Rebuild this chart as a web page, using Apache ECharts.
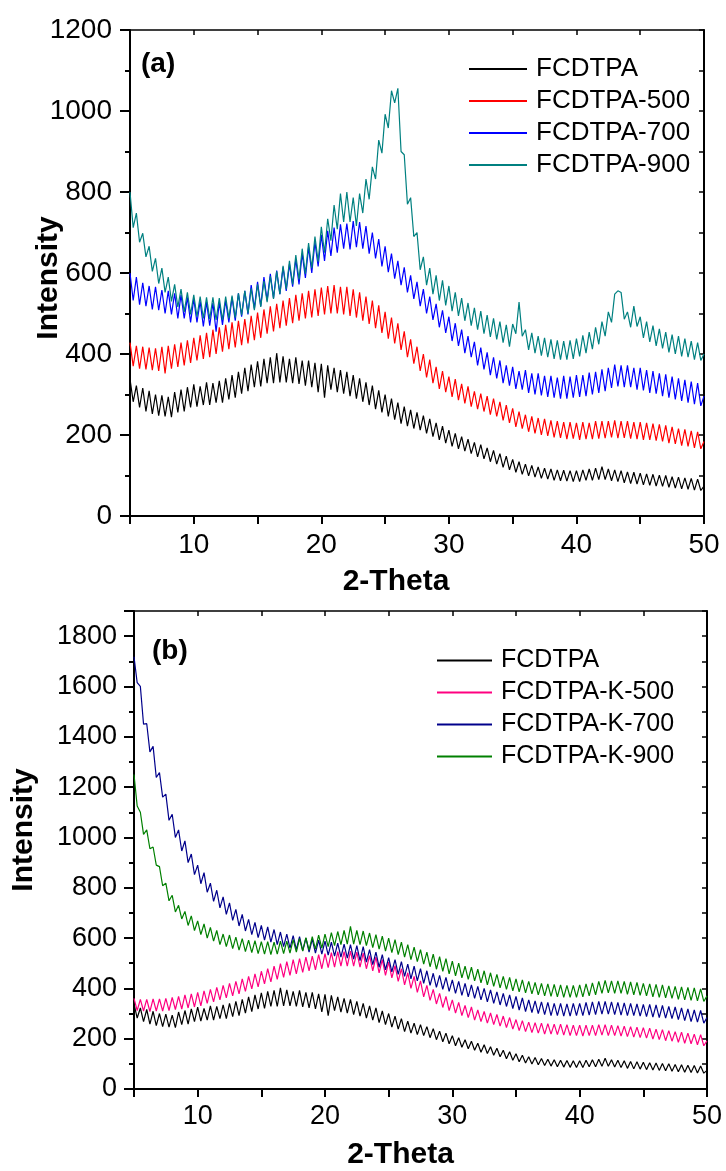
<!DOCTYPE html>
<html><head><meta charset="utf-8">
<script src="https://cdn.jsdelivr.net/npm/echarts@6/dist/echarts.min.js"></script>
<style>html,body{margin:0;padding:0;background:#fff}#c{width:726px;height:1171px}</style>
</head><body><div id="c"></div>
<script>
// 2-Theta sampling positions (degrees)
const twoTheta = [5,5.25,5.5,5.75,6,6.25,6.5,6.75,7,7.25,7.5,7.75,8,8.25,8.5,8.75,9,9.25,9.5,9.75,10,10.25,10.5,10.75,11,11.25,11.5,11.75,12,12.25,12.5,12.75,13,13.25,13.5,13.75,14,14.25,14.5,14.75,15,15.25,15.5,15.75,16,16.25,16.5,16.75,17,17.25,17.5,17.75,18,18.25,18.5,18.75,19,19.25,19.5,19.75,20,20.25,20.5,20.75,21,21.25,21.5,21.75,22,22.25,22.5,22.75,23,23.25,23.5,23.75,24,24.25,24.5,24.75,25,25.25,25.5,25.75,26,26.25,26.5,26.75,27,27.25,27.5,27.75,28,28.25,28.5,28.75,29,29.25,29.5,29.75,30,30.25,30.5,30.75,31,31.25,31.5,31.75,32,32.25,32.5,32.75,33,33.25,33.5,33.75,34,34.25,34.5,34.75,35,35.25,35.5,35.75,36,36.25,36.5,36.75,37,37.25,37.5,37.75,38,38.25,38.5,38.75,39,39.25,39.5,39.75,40,40.25,40.5,40.75,41,41.25,41.5,41.75,42,42.25,42.5,42.75,43,43.25,43.5,43.75,44,44.25,44.5,44.75,45,45.25,45.5,45.75,46,46.25,46.5,46.75,47,47.25,47.5,47.75,48,48.25,48.5,48.75,49,49.25,49.5,49.75,50];

const namesA = ['FCDTPA','FCDTPA-500','FCDTPA-700','FCDTPA-900'];
const namesB = ['FCDTPA','FCDTPA-K-500','FCDTPA-K-700','FCDTPA-K-900'];
const colorsA = ['#000000','#ff0000','#0000ff','#008080'];
const colorsB = ['#000000','#ff0080','#00008b','#008000'];

// FCDTPA (shared by both panels)
const fcdtpa = [
338,282,322,268,
316,258,309,252,
300,248,298,246,
294,244,306,256,
312,258,318,268,
325,270,320,274,
330,274,328,280,
334,280,340,288,
348,292,356,302,
366,308,374,318,
382,320,388,328,
392,328,402,330,
394,330,388,328,
392,326,384,322,
384,318,378,306,
376,292,372,312,
366,306,360,302,
356,296,348,290,
340,282,330,274,
322,264,310,256,
300,246,290,238,
280,228,270,222,
262,216,256,212,
248,204,240,196,
230,188,222,180,
212,172,204,166,
196,160,190,154,
182,146,176,141,
168,134,162,128,
154,120,148,114,
140,108,134,103,
128,99,125,96,
121,93,118,91,
116,88,114,87,
113,86,112,85,
112,85,114,88,
116,88,118,90,
122,90,116,87,
114,85,112,82,
109,80,108,79,
106,77,104,76,
103,74,101,73,
100,71,97,69,
96,67,94,66,
93,64,91,63,
74];

const fcdtpa500 = [
428,370,420,364,
418,362,416,360,
414,358,418,352,
420,364,424,368,
428,372,434,378,
440,384,446,388,
452,392,460,400,
466,406,472,412,
478,416,482,422,
486,426,494,434,
502,440,510,450,
518,456,524,464,
532,470,538,476,
546,482,550,488,
556,490,560,494,
564,498,568,500,
570,500,566,498,
566,494,560,490,
552,482,542,474,
532,464,520,452,
504,438,490,426,
476,410,456,392,
436,376,418,358,
400,342,386,328,
368,314,358,306,
344,294,338,286,
326,278,320,270,
308,264,302,258,
296,250,290,246,
282,236,274,230,
266,220,258,216,
250,208,246,204,
242,200,240,198,
236,194,234,193,
232,190,232,191,
230,188,232,190,
230,190,234,191,
234,192,234,194,
236,192,234,193,
234,191,232,190,
232,188,230,188,
228,186,226,184,
224,180,220,178,
216,174,214,172,
210,168,208,166,
184];

const fcdtpa700 = [
600,532,590,522,
576,518,568,510,
566,508,558,500,
556,498,550,488,
546,488,540,478,
536,478,530,468,
528,470,526,455,
528,472,532,478,
540,482,550,492,
556,498,570,512,
578,518,590,532,
598,538,606,548,
614,556,622,566,
634,572,648,588,
664,600,676,616,
694,630,704,642,
712,650,720,660,
722,658,728,664,
726,660,716,648,
700,636,684,616,
666,602,648,586,
630,570,614,552,
594,536,578,518,
560,500,542,484,
524,466,508,452,
492,432,476,420,
460,402,444,392,
430,372,416,362,
404,348,392,340,
384,328,372,322,
368,314,358,312,
360,304,352,300,
352,298,346,294,
346,292,342,290,
346,290,344,292,
348,294,348,296,
354,300,356,304,
362,308,366,316,
374,320,372,318,
372,318,366,312,
366,310,360,304,
358,302,352,296,
350,292,344,288,
340,284,336,280,
332,276,328,272,
296];

const fcdtpa900 = [
800,712,748,676,
698,640,666,604,
636,574,612,552,
590,530,572,516,
560,504,552,498,
546,492,542,488,
540,486,540,484,
538,484,542,488,
544,490,550,496,
556,500,562,508,
572,516,580,528,
592,536,604,548,
618,560,630,572,
644,584,660,598,
674,612,690,628,
714,650,734,680,
768,708,796,726,
800,726,786,716,
796,748,832,782,
862,832,928,896,
992,958,1050,1020,
1056,900,892,770,
786,690,700,608,
640,570,612,548,
594,532,582,520,
568,506,552,494,
538,482,526,470,
514,460,506,450,
496,442,488,436,
480,428,472,418,
474,450,528,444,
460,410,452,402,
444,396,440,392,
436,388,434,386,
432,386,434,388,
438,394,446,402,
454,412,466,424,
480,444,504,478,
548,556,552,486,
504,466,518,468,
492,440,480,430,
470,420,462,414,
454,404,448,400,
444,394,438,392,
432,386,428,384,
400];

const fcdtpaK500 = [
360,312,356,310,
356,308,358,310,
358,310,360,312,
364,316,368,318,
374,322,378,326,
384,330,390,340,
396,346,404,354,
412,362,420,370,
428,378,438,388,
448,398,458,406,
468,418,478,426,
488,436,498,444,
506,452,514,458,
518,464,524,470,
528,474,534,478,
538,482,542,484,
546,488,546,488,
548,488,544,484,
540,478,530,470,
524,462,514,452,
504,442,490,428,
478,414,462,400,
448,384,430,366,
412,352,396,338,
380,324,368,312,
354,302,344,292,
332,284,326,274,
314,268,308,262,
302,256,296,250,
290,244,284,238,
276,232,272,228,
266,224,264,222,
262,218,260,218,
258,216,258,214,
256,212,254,212,
254,210,254,212,
254,212,256,214,
256,212,254,212,
252,210,250,208,
248,206,246,204,
244,202,242,198,
238,196,236,192,
232,190,228,186,
226,182,222,180,
218,176,216,172,
192];

const fcdtpaK700 = [
1718,1615,1600,1450,
1452,1340,1362,1238,
1258,1160,1172,1068,
1092,1000,1030,946,
986,900,934,852,
890,816,860,782,
818,746,790,720,
764,694,740,670,
714,648,694,628,
674,614,662,602,
650,592,644,584,
634,574,624,566,
616,560,610,554,
606,550,600,544,
596,540,592,536,
588,532,584,528,
580,524,576,520,
574,516,570,510,
566,504,554,494,
544,484,534,474,
522,466,514,456,
506,448,496,438,
488,430,478,420,
470,412,460,404,
452,396,444,388,
434,380,428,372,
420,366,414,360,
408,354,400,346,
394,340,386,334,
380,328,374,320,
368,314,362,308,
354,304,350,300,
346,296,344,292,
340,292,340,290,
338,290,340,292,
340,292,344,294,
346,296,348,298,
348,298,346,296,
344,294,342,292,
340,292,338,290,
336,288,336,286,
334,284,332,282,
328,280,326,276,
322,272,318,268,
314,266,312,262,
284];

const fcdtpaK900 = [
1250,1125,1100,1012,
1030,955,962,890,
884,808,818,748,
770,704,730,676,
706,650,688,630,
668,614,656,600,
642,588,630,574,
616,566,612,558,
604,552,598,546,
592,542,590,538,
586,536,586,534,
584,536,588,538,
588,540,594,544,
598,548,602,552,
606,556,612,560,
616,566,622,570,
626,574,630,576,
646,576,630,574,
628,570,620,562,
614,556,608,548,
600,542,594,534,
584,524,574,514,
564,506,554,496,
544,486,536,476,
526,468,518,458,
508,450,500,442,
488,436,484,430,
476,422,470,414,
462,408,456,402,
448,396,444,390,
438,386,434,382,
428,378,424,374,
420,370,418,368,
416,366,414,364,
412,364,412,364,
414,366,418,370,
422,374,428,380,
432,382,430,380,
430,380,428,376,
426,374,424,372,
420,370,418,366,
416,364,414,362,
410,360,408,356,
406,354,404,352,
402,350,398,348,
370];

const valuesA = [fcdtpa, fcdtpa500, fcdtpa700, fcdtpa900];
const valuesB = [fcdtpa, fcdtpaK500, fcdtpaK700, fcdtpaK900];

const FONT = '"Liberation Sans", Arial, Helvetica, sans-serif';
const BLACK = '#000';

function pairs(vals) { return twoTheta.map((x, i) => [x, vals[i]]); }

function bottomX(grid, labelSize, labelMargin, nameGap, namePad) {
  return {
    type: 'value', gridIndex: grid, position: 'bottom', min: 5, max: 50, interval: 5,
    axisLine: { show: true, onZero: false, lineStyle: { color: BLACK, width: 2 } },
    axisTick: { show: true, inside: false, length: 8, lineStyle: { color: BLACK, width: 2 } },
    axisLabel: { show: true, margin: labelMargin, fontSize: labelSize, color: BLACK, fontFamily: FONT,
      formatter: v => (v % 10 === 0 ? String(v) : '') },
    splitLine: { show: false },
    name: '2-Theta', nameLocation: 'middle', nameGap: nameGap, nameMoveOverlap: false,
    nameTextStyle: { fontSize: 30, fontWeight: 'bold', color: BLACK, fontFamily: FONT, padding: namePad }
  };
}
function topX(grid) {
  return {
    type: 'value', gridIndex: grid, position: 'top', min: 5, max: 50, interval: 5,
    axisLine: { show: true, onZero: false, lineStyle: { color: BLACK, width: 1.5 } },
    axisTick: { show: true, inside: true, length: 5, lineStyle: { color: BLACK, width: 1.5 } },
    axisLabel: { show: false }, splitLine: { show: false }
  };
}
function leftY(grid, max, labelSize, margin, nameGap, namePad) {
  return {
    type: 'value', gridIndex: grid, position: 'left', min: 0, max: max, interval: 200,
    axisLine: { show: true, onZero: false, lineStyle: { color: BLACK, width: 2 } },
    axisTick: { show: true, inside: false, length: 10, lineStyle: { color: BLACK, width: 2 } },
    minorTick: { show: true, splitNumber: 2, length: 5, lineStyle: { color: BLACK, width: 2 } },
    axisLabel: { show: true, margin: margin, fontSize: labelSize, color: BLACK, fontFamily: FONT,
      showMaxLabel: max % 200 === 0, formatter: v => String(v) },
    splitLine: { show: false }, minorSplitLine: { show: false },
    name: 'Intensity', nameLocation: 'middle', nameGap: nameGap, nameMoveOverlap: false,
    nameTextStyle: { fontSize: 30, fontWeight: 'bold', color: BLACK, fontFamily: FONT, padding: namePad }
  };
}
function rightY(grid, max) {
  return {
    type: 'value', gridIndex: grid, position: 'right', min: 0, max: max, interval: 100,
    axisLine: { show: true, onZero: false, lineStyle: { color: BLACK, width: 2 } },
    axisTick: { show: true, inside: true, length: 5, lineStyle: { color: BLACK, width: 1.5 } },
    axisLabel: { show: false }, splitLine: { show: false }
  };
}

const series = [];
namesA.forEach((n, i) => series.push({
  name: n, type: 'line', xAxisIndex: 0, yAxisIndex: 0, data: pairs(valuesA[i]),
  showSymbol: false, symbol: 'none', color: colorsA[i], lineStyle: { width: 1.2, color: colorsA[i] },
  z: 2 + i, silent: true
}));
namesB.forEach((n, i) => series.push({
  name: n, type: 'line', xAxisIndex: 2, yAxisIndex: 2, data: pairs(valuesB[i]),
  showSymbol: false, symbol: 'none', color: colorsB[i], lineStyle: { width: 1.2, color: colorsB[i] },
  z: 2 + i, silent: true
}));

const legendCommon = {
  orient: 'vertical', icon: 'rect', itemHeight: 2, selectedMode: false, padding: 0,
  textStyle: { color: BLACK, fontFamily: FONT, padding: [0, 0, 0, 4] }
};

const option = {
  animation: false,
  backgroundColor: '#fff',
  grid: [
    { left: 130, right: 22, top: 30, height: 486, containLabel: false },
    { left: 134, right: 19, top: 611, height: 486, containLabel: false }
  ],
  xAxis: [bottomX(0, 28, 15, 51, [0, 42, 0, 0]), topX(0), bottomX(1, 27, 14, 51, [0, 40, 0, 0]), topX(1)],
  yAxis: [leftY(0, 1200, 28, 18, 66, [0, 10, 0, 0]), rightY(0, 1200),
          leftY(1, 1900, 27, 17, 95, [0, 0, 0, 40]), rightY(1, 1900)],
  legend: [
    Object.assign({}, legendCommon, { data: namesA, left: 469, top: 54, itemWidth: 58, itemGap: 2,
      textStyle: Object.assign({}, legendCommon.textStyle, { fontSize: 26, lineHeight: 30 }) }),
    Object.assign({}, legendCommon, { data: namesB, left: 437, top: 645, itemWidth: 55, itemGap: 1,
      textStyle: Object.assign({}, legendCommon.textStyle, { fontSize: 25, lineHeight: 31 }) })
  ],
  graphic: [
    { type: 'text', left: 141, top: 50, style: { text: '(a)', fontSize: 28, fontWeight: 'bold', fill: BLACK, fontFamily: FONT } },
    { type: 'text', left: 152, top: 637, style: { text: '(b)', fontSize: 28, fontWeight: 'bold', fill: BLACK, fontFamily: FONT } }
  ],
  series: series
};

const chart = echarts.init(document.getElementById('c'), null, { renderer: 'canvas' });
chart.setOption(option);
</script>
</body></html>
